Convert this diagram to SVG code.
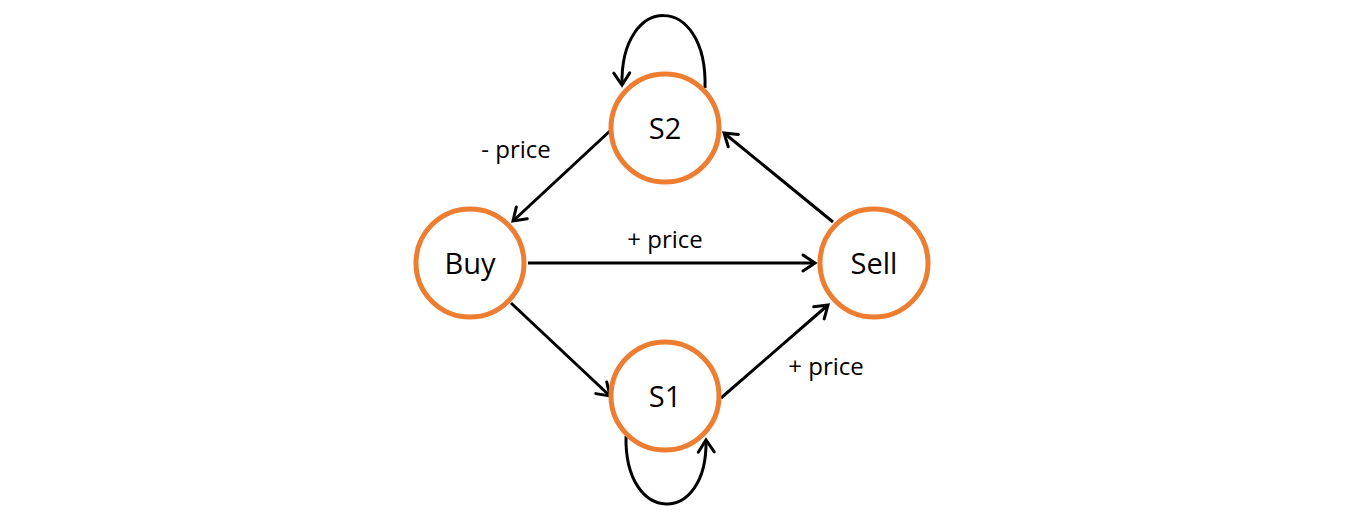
<svg xmlns="http://www.w3.org/2000/svg" width="1346" height="514" viewBox="0 0 1346 514">
<style>
.node{fill:#fff;stroke:#ED7D31;stroke-width:5}
.lbl{font-family:"Open Sans","Liberation Sans",sans-serif;font-size:29px;fill:#000;text-anchor:middle}
.edge{fill:none;stroke:#000;stroke-width:3}
.elbl{font-family:"Open Sans","Liberation Sans",sans-serif;font-size:24px;fill:#000;text-anchor:middle}
</style>
<defs>
<marker id="arr" markerUnits="userSpaceOnUse" markerWidth="30" markerHeight="30" viewBox="-15 -15 30 30" refX="0" refY="0" orient="auto">
<path d="M-12,-8 L0,0 L-12,8" fill="none" stroke="#000" stroke-width="3" stroke-linecap="round" stroke-linejoin="miter"/>
</marker>
</defs>
<rect width="1346" height="514" fill="#fff"/>
<g id="connectors">
<line class="edge" x1="611" y1="130" x2="513" y2="221" marker-end="url(#arr)"/>
<line class="edge" x1="528" y1="263" x2="815" y2="263" marker-end="url(#arr)"/>
<line class="edge" x1="511" y1="303" x2="610" y2="396" marker-end="url(#arr)"/>
<line class="edge" x1="721" y1="398" x2="828" y2="305" marker-end="url(#arr)"/>
<line class="edge" x1="833" y1="222" x2="724" y2="133" marker-end="url(#arr)"/>
<path class="edge" d="M705,88 C708,-8 620,-8 622,85" marker-end="url(#arr)"/>
<path class="edge" d="M626,436 C624,526 708,526 706,440" marker-end="url(#arr)"/>
<text class="elbl" x="516" y="158">- price</text>
<text class="elbl" x="665" y="248">+ price</text>
<text class="elbl" x="826" y="375">+ price</text>
</g>
<g id="S2"><circle class="node" cx="665" cy="128" r="54"/><text class="lbl" x="665" y="139">S2</text></g>
<g id="Buy"><circle class="node" cx="470" cy="263" r="54"/><text class="lbl" x="470" y="274">Buy</text></g>
<g id="Sell"><circle class="node" cx="874" cy="263" r="54"/><text class="lbl" x="874" y="274">Sell</text></g>
<g id="S1"><circle class="node" cx="665" cy="396" r="54"/><text class="lbl" x="665" y="407">S1</text></g>
</svg>
